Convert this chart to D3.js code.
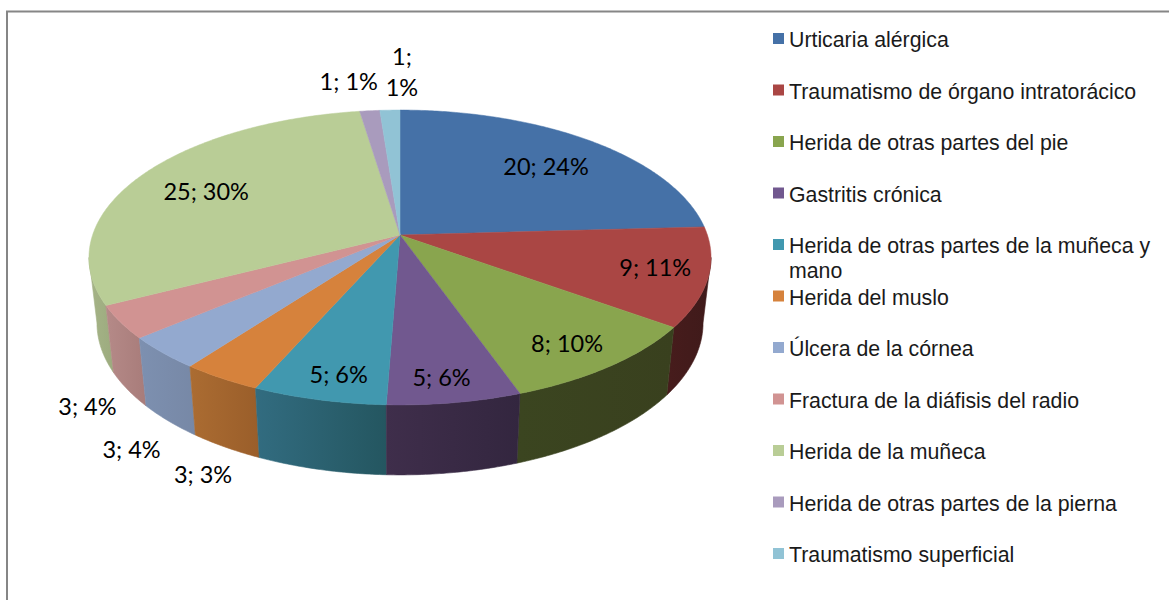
<!DOCTYPE html>
<html>
<head>
<meta charset="utf-8">
<script src="https://cdn.jsdelivr.net/npm/d3@7"></script>
<style>
html,body{margin:0;padding:0;background:#fff;overflow:hidden}
svg{display:block}
</style>
</head>
<body>
<svg id="chart" width="1169" height="600"></svg>
<script>
const categories = ["Urticaria alérgica","Traumatismo de órgano intratorácico","Herida de otras partes del pie","Gastritis crónica","Herida de otras partes de la muñeca y mano","Herida del muslo","Úlcera de la córnea","Fractura de la diáfisis del radio","Herida de la muñeca","Herida de otras partes de la pierna","Traumatismo superficial"];
const values = [20,9,8,5,5,3,3,3,25,1,1];
const percents = [24,11,10,6,6,3,4,4,30,1,1];
const topColors = ["#4571a7","#aa4644","#89a54e","#71588f","#4198af","#d6823c","#93a9cf","#d19392","#b9cd96","#a99bbd","#91c3d5"];
const wallLeft = ["#36568a","#471c1c","#3b4520","#3f2e4b","#326c80","#ab6c32","#7d90b0","#b58a88","#a6b488","#8a7ea0","#7aa6b6"];
const wallRight = ["#36568a","#3f1a1a","#39401e","#33263f","#245660","#9a5e2a","#7788a6","#a87c7a","#9cab7e","#8a7ea0","#7aa6b6"];

// layout
const labelOffsets = [[-44,26],[-53,-9],[-43,-22],[-13,-25],[20,-25],[-18,97],[-31,97],[-33,85],[62,18],[-21,-29],[12,-39]];
const wrappedLegend = {4:["Herida de otras partes de la muñeca y","mano"]};
const wrappedLabel = {10:true};
const topFace = {cy:235,A:307.4,B:144,k:0.1525};
const baseFace = {cy:299.8,A:299.5,B:148.4,k:0.1525};
const cx = 400;
const tangent = Math.acos(-topFace.k);

const project = (f,t,r=1)=>{
  const w = 1+f.k*r*Math.cos(t);
  return [cx+f.A*r*Math.sin(t)/w, f.cy-f.B*r*Math.cos(t)/w];
};
const arcSamples = (a0,a1)=>{
  const n = Math.max(2,Math.ceil((a1-a0)/0.01));
  return d3.range(n+1).map(d3.scaleLinear().domain([0,n]).range([a0,a1]));
};

const svg = d3.select("#chart");
const line = d3.line();
const pie = d3.pie().sort(null).value(d=>d)(values);
const defs = svg.append("defs");

// frame
svg.append("path")
  .attr("d","M7,600V11.5H1169")
  .attr("fill","none").attr("stroke","#868686").attr("stroke-width",2);

// side walls
const walls = pie.map((s,i)=>({i,a0:Math.max(s.startAngle,tangent),a1:Math.min(s.endAngle,2*Math.PI-tangent)}))
  .filter(d=>d.a1>d.a0)
  .sort((a,b)=>Math.abs(Math.PI-(b.a0+b.a1)/2)-Math.abs(Math.PI-(a.a0+a.a1)/2));
walls.forEach(d=>{
  const ts = arcSamples(d.a0,d.a1);
  const upper = ts.map(t=>project(topFace,t));
  const lower = ts.map(t=>project(baseFace,t)).reverse();
  const xs = upper.concat(lower).map(p=>p[0]);
  const g = defs.append("linearGradient").attr("id","wall"+d.i)
    .attr("gradientUnits","userSpaceOnUse")
    .attr("x1",d3.min(xs)).attr("x2",d3.max(xs)).attr("y1",0).attr("y2",0);
  g.append("stop").attr("offset",0).attr("stop-color",wallLeft[d.i]);
  g.append("stop").attr("offset",1).attr("stop-color",wallRight[d.i]);
  svg.append("path")
    .attr("d",line(upper.concat(lower))+"Z")
    .attr("fill",`url(#wall${d.i})`)
    .attr("stroke",`url(#wall${d.i})`).attr("stroke-width",0.6);
});

// top slices
pie.forEach((s,i)=>{
  const pts = [[cx,topFace.cy]].concat(arcSamples(s.startAngle,s.endAngle).map(t=>project(topFace,t)));
  svg.append("path")
    .attr("d",line(pts)+"Z")
    .attr("fill",topColors[i])
    .attr("stroke",topColors[i]).attr("stroke-width",0.5);
});

// data labels
const labelFont = "Lato, Carlito, sans-serif";
pie.forEach((s,i)=>{
  const p = project(topFace,(s.startAngle+s.endAngle)/2);
  const x = p[0]+labelOffsets[i][0], y = p[1]+labelOffsets[i][1];
  const text = svg.append("text").attr("x",x).attr("y",y)
    .attr("text-anchor","middle")
    .attr("font-family",labelFont).attr("font-size",23.5).attr("fill","#000");
  if(wrappedLabel[i]){
    text.append("tspan").attr("x",x).attr("dy","-0.25em").text(values[i]+";");
    text.append("tspan").attr("x",x).attr("dy","1.3em").text(percents[i]+"%");
  } else {
    text.attr("dy","0.35em").text(values[i]+"; "+percents[i]+"%");
  }
});

// legend
const rowY = d3.scaleLinear().domain([0,10]).range([40,555]);
const legend = svg.append("g");
categories.forEach((c,i)=>{
  const y = rowY(i);
  legend.append("rect").attr("x",773).attr("y",y-7).attr("width",11).attr("height",11).attr("fill",topColors[i]);
  const lines = wrappedLegend[i]||[c];
  lines.forEach((l,j)=>{
    legend.append("text").attr("x",789).attr("y",y+j*25).attr("dy","0.35em")
      .attr("font-family","'Liberation Sans',Arial,sans-serif").attr("font-size",21.3).attr("fill","#1a1a1a").text(l);
  });
});
</script>
</body>
</html>
